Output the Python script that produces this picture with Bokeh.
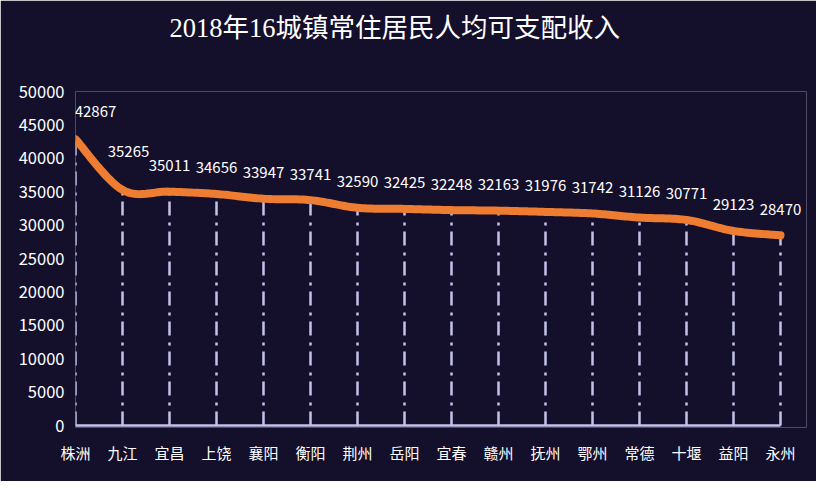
from bokeh.plotting import figure
from bokeh.models import Range1d, FixedTicker, ColumnDataSource, LabelSet, Title
from bokeh.core.properties import value
from bokeh.embed import file_html
from bokeh.resources import INLINE
import numpy as np

title_text = "2018年16城镇常住居民人均可支配收入"
cities = ["株洲", "九江", "宜昌", "上饶", "襄阳", "衡阳", "荆州", "岳阳",
          "宜春", "赣州", "抚州", "鄂州", "常德", "十堰", "益阳", "永州"]
income = [42867, 35265, 35011, 34656, 33947, 33741, 32590, 32425,
          32248, 32163, 31976, 31742, 31126, 30771, 29123, 28470]
y_ticks = [0, 5000, 10000, 15000, 20000, 25000, 30000, 35000, 40000, 45000, 50000]

BG = "#140f2b"
LAV = "#c3c3ea"
ORANGE = "#ee7d31"
SANS = "Noto Sans CJK SC"
SERIF = "'Liberation Serif', 'Noto Sans CJK SC', serif"

n = len(cities)
xs = list(range(n))

# Catmull-Rom smoothing of the data points (like a smoothed line)
def smooth(xv, yv, steps=20):
    px = [xv[0]] + list(xv) + [xv[-1]]
    py = [yv[0]] + list(yv) + [yv[-1]]
    ox, oy = [], []
    for i in range(1, len(px) - 2):
        for t in np.linspace(0, 1, steps, endpoint=(i == len(px) - 3)):
            t2, t3 = t * t, t * t * t
            def cr(p0, p1, p2, p3):
                return 0.5 * ((2 * p1) + (-p0 + p2) * t + (2 * p0 - 5 * p1 + 4 * p2 - p3) * t2
                              + (-p0 + 3 * p1 - 3 * p2 + p3) * t3)
            ox.append(cr(px[i - 1], px[i], px[i + 1], px[i + 2]))
            oy.append(cr(py[i - 1], py[i], py[i + 1], py[i + 2]))
    return ox, oy

sx, sy = smooth(xs, income)

AXIS_PX = 705.0
EXTRA_R = 26.0
PLOT_H = 335.0
EXTRA_B = 2.0
x_end = (n - 1) * (AXIS_PX + EXTRA_R) / AXIS_PX
y_start = -50000 * EXTRA_B / PLOT_H

p = figure(width=816, height=481, output_backend="svg", toolbar_location=None,
           x_range=Range1d(0, x_end), y_range=Range1d(y_start, 50000),
           min_border_left=75, min_border_right=10, min_border_top=10, min_border_bottom=54)

p.title = None
spacer = Title(text=" ", text_font_size="10px", standoff=26)
p.add_layout(spacer, "above")
main_title = Title(text=title_text, align="left", offset=94, text_font=SERIF,
                   text_font_size="26.5px", text_font_style="normal",
                   text_color="#ffffff", standoff=20)
p.add_layout(main_title, "above")

p.background_fill_color = BG
p.border_fill_color = BG
p.outline_line_color = None
p.grid.grid_line_color = None

# drop lines
p.segment(x0=xs, y0=[0] * n, x1=xs, y1=income, line_color=LAV, line_width=2.5,
          line_dash="14 6 3 7")
# baseline (category axis line)
p.segment(x0=[xs[0]], y0=[0], x1=[xs[-1]], y1=[0], line_color=LAV, line_width=2.5)

p.line(sx, sy, line_color=ORANGE, line_width=8, line_cap="round", line_join="round")

yo = [26] * n
yo[0] = 28
yo[1] = 38
xo = [0] * n
xo[0] = 20
xo[1] = 6
src = ColumnDataSource(dict(x=xs, y=income, t=[str(v) for v in income], xo=xo, yo=yo))
labels = LabelSet(x="x", y="y", text="t", source=src, x_offset="xo", y_offset="yo",
                  text_align="center", text_baseline="middle", text_color="#ffffff",
                  text_font=value(SANS), text_font_size="15px")
p.add_layout(labels)

p.xaxis.ticker = FixedTicker(ticks=xs)
p.xaxis.major_label_overrides = {i: c for i, c in enumerate(cities)}
p.xaxis.axis_line_color = None
p.xaxis.major_tick_line_color = None
p.xaxis.minor_tick_line_color = None
p.xaxis.major_label_standoff = 8
p.xaxis.major_label_text_color = "#ffffff"
p.xaxis.major_label_text_font = SANS
p.xaxis.major_label_text_font_size = "15px"

p.yaxis.ticker = FixedTicker(ticks=y_ticks)
p.yaxis.axis_line_color = None
p.yaxis.major_tick_line_color = None
p.yaxis.minor_tick_line_color = None
p.yaxis.major_label_standoff = 5
p.yaxis.major_label_text_color = "#ffffff"
p.yaxis.major_label_text_font = SANS
p.yaxis.major_label_text_font_size = "16.5px"
p.yaxis.formatter.use_scientific = False

open("out.html", "w").write(file_html(p, INLINE))
